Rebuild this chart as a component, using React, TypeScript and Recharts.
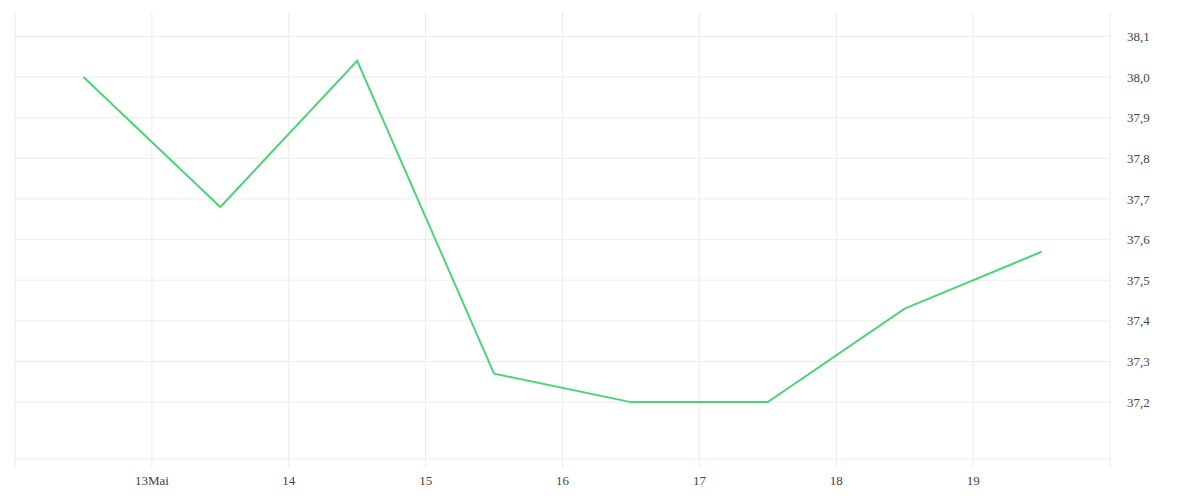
import React from 'react';
import { LineChart, Line, XAxis, YAxis, ReferenceLine } from 'recharts';

// day of month (noon readings) and temperature values
const DAYS = [12.5, 13.5, 14.5, 15.5, 16.5, 17.5, 18.5, 19.5];
const TEMPS = [38.0, 37.68, 38.04, 37.27, 37.2, 37.2, 37.43, 37.57];

const X_TICKS = [12, 13, 14, 15, 16, 17, 18, 19, 20];
const X_LABELS: Record<number, string> = {
  13: '13Mai',
  14: '14',
  15: '15',
  16: '16',
  17: '17',
  18: '18',
  19: '19',
};
const Y_TICKS = [37.2, 37.3, 37.4, 37.5, 37.6, 37.7, 37.8, 37.9, 38.0, 38.1];

const data = DAYS.map((day, i) => ({ day, temp: TEMPS[i] }));

const GRID = '#ececec';
const FONT = '"Liberation Serif", "Times New Roman", serif';
const tickStyle = { fill: '#444', fontSize: 13, fontFamily: FONT };

const App: React.FC = () => {
  return (
    <div
      style={{
        position: 'absolute',
        left: 0,
        top: 0,
        width: 1200,
        height: 500,
        background: '#fff',
        fontFamily: FONT,
      }}
    >
      <LineChart width={1200} height={500} data={data} margin={{ top: 12, right: 0, bottom: 0, left: 15 }}>
        {X_TICKS.map((t) => (
          <ReferenceLine key={`x${t}`} x={t} stroke={GRID} strokeWidth={1} />
        ))}
        {Y_TICKS.map((t) => (
          <ReferenceLine key={`y${t}`} y={t} stroke={GRID} strokeWidth={1} />
        ))}
        <XAxis
          dataKey="day"
          type="number"
          domain={[12, 20]}
          ticks={X_TICKS}
          interval={0}
          height={41}
          axisLine={{ stroke: GRID }}
          tickLine={{ stroke: GRID }}
          tickSize={9}
          tickMargin={8}
          tick={tickStyle}
          tickFormatter={(v: number) => X_LABELS[v] ?? ''}
        />
        <YAxis
          orientation="right"
          type="number"
          domain={[37.06, 38.16]}
          ticks={Y_TICKS}
          interval={0}
          width={90}
          axisLine={false}
          tickLine={false}
          tickSize={0}
          tickMargin={17}
          tick={tickStyle}
          tickFormatter={(v: number) => v.toFixed(1).replace('.', ',')}
        />
        <Line
          type="linear"
          dataKey="temp"
          stroke="#4cd478"
          strokeWidth={2}
          dot={false}
          activeDot={false}
          isAnimationActive={false}
        />
      </LineChart>
    </div>
  );
};

export default App;
